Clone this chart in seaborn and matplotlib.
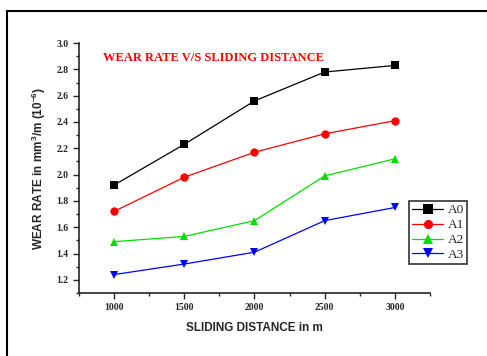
import pandas as pd
import seaborn as sns
import matplotlib.pyplot as plt
from matplotlib.lines import Line2D
from matplotlib.ticker import MultipleLocator

# данные
distance = [1000, 1500, 2000, 2500, 3000]
a0 = [1.92, 2.23, 2.56, 2.78, 2.83]
a1 = [1.72, 1.98, 2.17, 2.31, 2.41]
a2 = [1.49, 1.53, 1.65, 1.99, 2.12]
a3 = [1.24, 1.32, 1.41, 1.65, 1.75]

series = {'A0': a0, 'A1': a1, 'A2': a2, 'A3': a3}
colors = {'A0': 'black', 'A1': 'red', 'A2': '#00e000', 'A3': 'blue'}
markers = {'A0': 's', 'A1': 'o', 'A2': '^', 'A3': 'v'}

rows = []
for name, vals in series.items():
    for d, v in zip(distance, vals):
        rows.append({'distance': d, 'wear': v, 'sample': name})
df = pd.DataFrame(rows)

sns.set_style('ticks')
plt.rcParams['font.family'] = ['Liberation Serif', 'DejaVu Serif']
plt.rcParams['mathtext.default'] = 'regular'

fig = plt.figure(figsize=(4.87, 3.56), dpi=100)
ax = fig.add_axes([0.162, 0.177, 0.721, 0.702])

sns.lineplot(data=df, x='distance', y='wear', hue='sample', style='sample',
             palette=colors, markers=markers, dashes=False, markersize=6,
             linewidth=0.9, markeredgewidth=0, ax=ax)

ax.set_xlim(750, 3250)
ax.set_ylim(1.1, 3.0)
ax.xaxis.set_major_locator(MultipleLocator(500))
ax.xaxis.set_minor_locator(MultipleLocator(250))
ax.yaxis.set_minor_locator(MultipleLocator(0.1))
ax.set_yticks([1.2, 1.4, 1.6, 1.8, 2.0, 2.2, 2.4, 2.6, 2.8, 3.0])
ax.tick_params(which='major', direction='out', length=4, width=1, labelsize=7)
ax.tick_params(which='minor', direction='out', length=2.5, width=1)
for lab in ax.get_xticklabels() + ax.get_yticklabels():
    lab.set_fontweight('bold')

sns.despine(ax=ax)
for sp in ['left', 'bottom']:
    ax.spines[sp].set_linewidth(1.2)

ax.set_xlabel('SLIDING DISTANCE in m', family='Liberation Sans',
              fontweight='bold', fontsize=8.5, labelpad=7)
ax.set_ylabel('WEAR RATE in mm$^3$/m (10$^{-6}$)', family='Liberation Sans',
              fontweight='bold', fontsize=8.5, labelpad=6)

ax.text(0.07, 0.965, 'WEAR RATE V/S SLIDING DISTANCE', transform=ax.transAxes,
        color='red', fontweight='bold', fontsize=9, va='top')

leg = ax.legend(loc='upper left', bbox_to_anchor=(0.92, 0.395), fontsize=9.5,
                frameon=True, fancybox=False, edgecolor='black',
                handlelength=2.4, handletextpad=0.3, borderpad=0.25,
                labelspacing=0.2, markerscale=1.1)
leg.get_frame().set_linewidth(1.2)

# рамка документа
fig.add_artist(Line2D([7 / 487, 1.0], [1 - 11 / 356, 1 - 11 / 356],
                      transform=fig.transFigure, color='black', linewidth=1.5))
fig.add_artist(Line2D([7 / 487, 7 / 487], [0.0, 1 - 11 / 356],
                      transform=fig.transFigure, color='black', linewidth=1.5))

fig.savefig('out.png', dpi=100)
